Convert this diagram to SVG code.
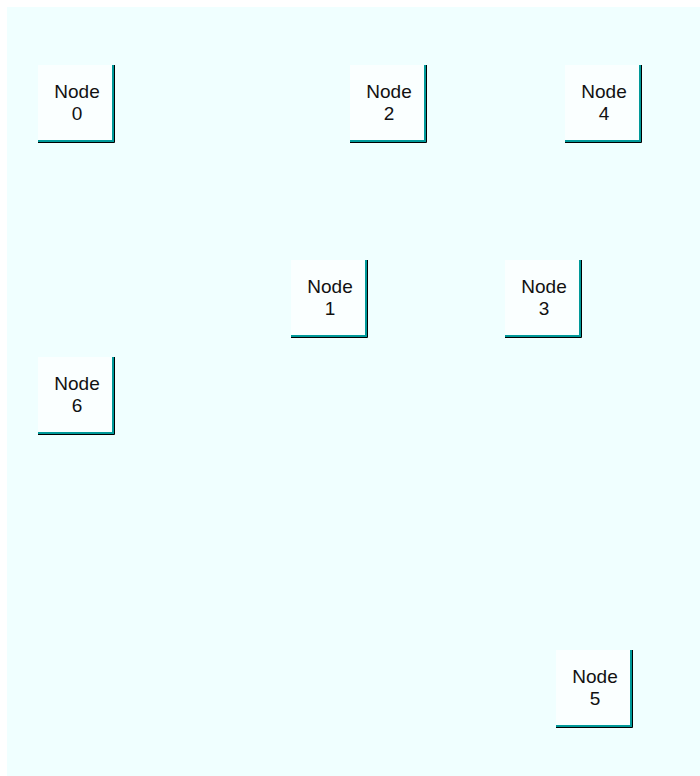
<svg xmlns="http://www.w3.org/2000/svg" width="700" height="776" viewBox="0 0 700 776">
<style>
.bg{fill:#F0FFFF}
.box{fill:#FAFFFF}
.sh{fill:none;stroke:#009999;stroke-width:2}
.bk{fill:none;stroke:#000;stroke-width:1}
text{font-family:"Liberation Sans",Arial,sans-serif;font-size:19px;fill:#111;text-anchor:middle}
</style>
<defs>
<g id="n">
<rect class="box" x="0" y="0" width="74" height="75"/>
<polyline class="sh" points="0,76 75,76 75,0"/>
<polyline class="bk" points="0,77.5 76.5,77.5 76.5,0"/>
</g>
</defs>
<rect class="bg" x="7" y="7" width="693" height="769"/>
<g id="connectors"></g>
<g id="node0" transform="translate(38,65)"><use href="#n"/><text x="39" y="33">Node</text><text x="39" y="55">0</text></g>
<g id="node2" transform="translate(350,65)"><use href="#n"/><text x="39" y="33">Node</text><text x="39" y="55">2</text></g>
<g id="node4" transform="translate(565,65)"><use href="#n"/><text x="39" y="33">Node</text><text x="39" y="55">4</text></g>
<g id="node1" transform="translate(291,260)"><use href="#n"/><text x="39" y="33">Node</text><text x="39" y="55">1</text></g>
<g id="node3" transform="translate(505,260)"><use href="#n"/><text x="39" y="33">Node</text><text x="39" y="55">3</text></g>
<g id="node6" transform="translate(38,357)"><use href="#n"/><text x="39" y="33">Node</text><text x="39" y="55">6</text></g>
<g id="node5" transform="translate(556,650)"><use href="#n"/><text x="39" y="33">Node</text><text x="39" y="55">5</text></g>
</svg>
